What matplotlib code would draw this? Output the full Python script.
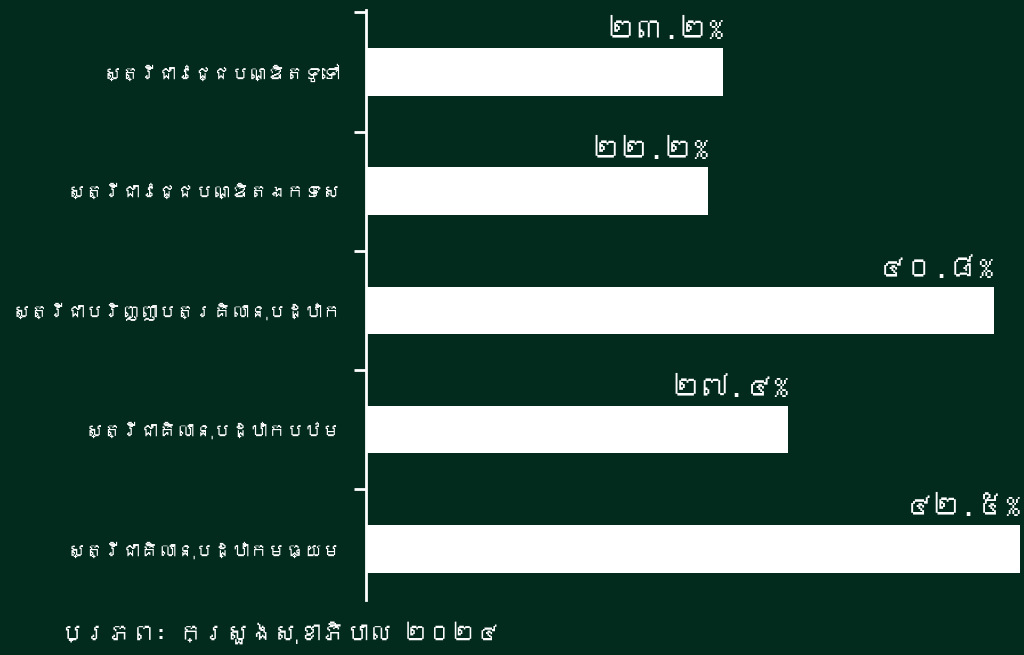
import numpy as np
import matplotlib
matplotlib.use('Agg')
import matplotlib.pyplot as plt
from matplotlib import font_manager
from matplotlib.ft2font import FT2Font

# data
categories = ['ស្ត្រីជាវេជ្ជបណ្ឌិតទូទៅ',
              'ស្ត្រីជាវេជ្ជបណ្ឌិតឯកទេស',
              'ស្ត្រីជាបរិញ្ញាបត្រគិលានុបដ្ឋាក',
              'ស្ត្រីជាគិលានុបដ្ឋាកបឋម',
              'ស្ត្រីជាគិលានុបដ្ឋាកមធ្យម']
values = [23.2, 22.2, 40.8, 27.4, 42.5]
source_text = 'ប្រភព: ក្រសួងសុខាភិបាល ២០២៤'

bg = '#032b1d'

def khmerDigits(s):
    return s.translate(str.maketrans('0123456789', '០១២៣៤៥៦៧៨៩'))

def findKhmerFont():
    # look for any installed font that has Khmer glyphs
    for f in font_manager.fontManager.ttflist:
        try:
            if 0x1780 in FT2Font(f.fname).get_charmap():
                return f.name
        except Exception:
            pass
    return None

kh = findKhmerFont()
families = [kh, 'DejaVu Sans'] if kh else ['DejaVu Sans']
plt.rcParams['font.family'] = families

fig = plt.figure(figsize=(10.24, 6.55), dpi=100, facecolor=bg)
ax = fig.add_axes([366/1024, 55/655, (1024-366)/1024, 590/655])
ax.set_facecolor(bg)

y = np.arange(len(categories))
ax.barh(y, values, height=0.4, color='white')

for i, v in enumerate(values):
    ax.text(v, i - 0.24, khmerDigits('%.1f%%' % v), color='white',
            fontsize=21, ha='right', va='bottom')

ax.set_xlim(0, 42.76)
ax.set_ylim(4.43, -0.52)

for s in ['top', 'right', 'bottom']:
    ax.spines[s].set_visible(False)
ax.spines['left'].set_color('white')
ax.spines['left'].set_linewidth(2)

ax.set_xticks([])
ax.set_yticks(y)
labels = ax.set_yticklabels(categories, fontsize=24, color='white')
ax.tick_params(axis='y', which='major', length=0, pad=18)
ax.set_yticks(y - 0.5, minor=True)
ax.tick_params(axis='y', which='minor', length=9, width=2, color='white')

src = fig.text(60/1024, 22/655, source_text, color='white', fontsize=22,
               ha='left', va='center')

# shrink texts so they fit where the reference puts them
fig.canvas.draw()
r = fig.canvas.get_renderer()
wmax = max(t.get_window_extent(r).width for t in labels)
if wmax > 330:
    for t in labels:
        t.set_fontsize(24 * 330 / wmax)
w = src.get_window_extent(r).width
if w > 440:
    src.set_fontsize(22 * 440 / w)

fig.savefig('out.png', dpi=100, facecolor=bg)
